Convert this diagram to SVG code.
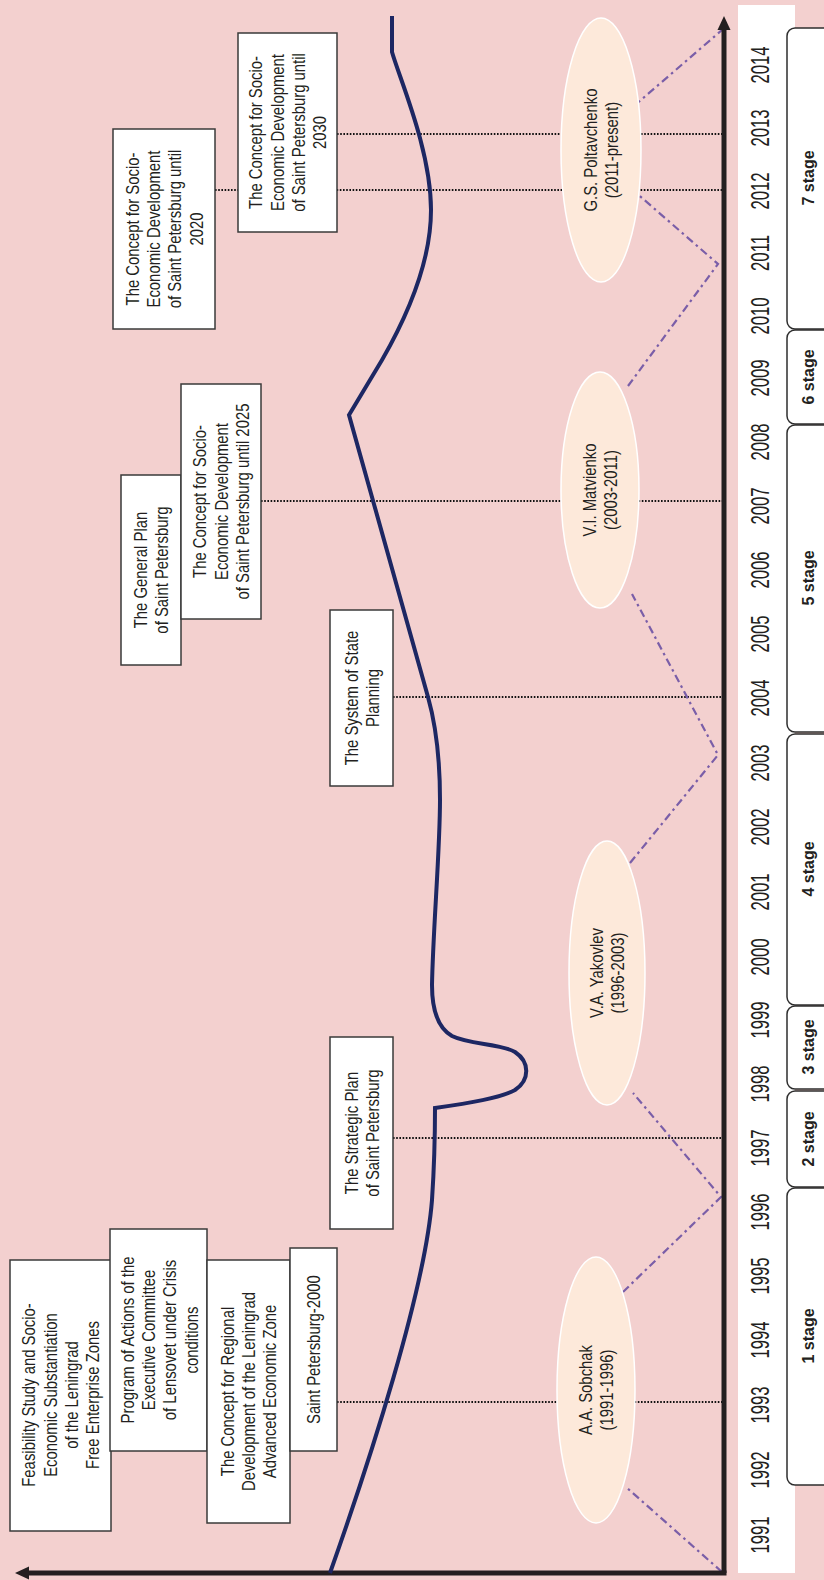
<svg xmlns="http://www.w3.org/2000/svg" width="824" height="1580" viewBox="0 0 824 1580">
<style>
.bg{fill:#F3D0CF}
.box{fill:#ffffff;stroke:#3a3a3a;stroke-width:1.5}
.stg{fill:#ffffff;stroke:#2e2e2e;stroke-width:1.5}
.ell{fill:#FDE9DA;stroke:#ffffff;stroke-width:1.5}
.t{font-family:"Liberation Sans",Arial,sans-serif;font-size:18.6px;fill:#231f20;text-anchor:middle}
.yr{font-family:"Liberation Sans",Arial,sans-serif;font-size:25px;fill:#231f20;text-anchor:middle}
.st{font-family:"Liberation Sans",Arial,sans-serif;font-size:16px;font-weight:bold;fill:#231f20;text-anchor:middle}
.dot{stroke:#111111;stroke-width:1.8;stroke-dasharray:1.6 1.6;fill:none}
.zig{stroke:#7a5ea8;stroke-width:2.2;stroke-dasharray:8 4 2.5 4;fill:none}
.axis{stroke:#231f20;stroke-width:5;fill:none}
.curve{stroke:#1d2763;stroke-width:4;fill:none;stroke-linejoin:miter}
</style>
<defs>
<marker id="arr" viewBox="0 0 14 14" refX="1" refY="7" markerWidth="14" markerHeight="14" markerUnits="userSpaceOnUse" orient="auto">
<path d="M0,0.5 L14,7 L0,13.5 Z" fill="#231f20"/>
</marker>
</defs>
<rect class="bg" x="0" y="0" width="824" height="1580"/>
<rect x="738" y="5" width="57" height="1568" fill="#ffffff"/>

<g id="stages">
<rect class="stg" x="787" y="28" width="60" height="301" rx="8"/>
<rect class="stg" x="787" y="330" width="60" height="94" rx="8"/>
<rect class="stg" x="787" y="425" width="60" height="307" rx="8"/>
<rect class="stg" x="787" y="734" width="60" height="271" rx="8"/>
<rect class="stg" x="787" y="1006" width="60" height="83" rx="8"/>
<rect class="stg" x="787" y="1091" width="60" height="96" rx="8"/>
<rect class="stg" x="787" y="1188" width="60" height="297" rx="8"/>
<text class="st" transform="translate(813.5,178) rotate(-90)">7 stage</text>
<text class="st" transform="translate(813.5,377) rotate(-90)">6 stage</text>
<text class="st" transform="translate(813.5,578) rotate(-90)">5 stage</text>
<text class="st" transform="translate(813.5,869) rotate(-90)">4 stage</text>
<text class="st" transform="translate(813.5,1047) rotate(-90)">3 stage</text>
<text class="st" transform="translate(813.5,1139) rotate(-90)">2 stage</text>
<text class="st" transform="translate(813.5,1336) rotate(-90)">1 stage</text>
</g>

<g id="years">
<text class="yr" transform="translate(769,1535) rotate(-90) scale(0.67,1)">1991</text>
<text class="yr" transform="translate(769,1470) rotate(-90) scale(0.67,1)">1992</text>
<text class="yr" transform="translate(769,1405) rotate(-90) scale(0.67,1)">1993</text>
<text class="yr" transform="translate(769,1340) rotate(-90) scale(0.67,1)">1994</text>
<text class="yr" transform="translate(769,1276) rotate(-90) scale(0.67,1)">1995</text>
<text class="yr" transform="translate(769,1212) rotate(-90) scale(0.67,1)">1996</text>
<text class="yr" transform="translate(769,1148) rotate(-90) scale(0.67,1)">1997</text>
<text class="yr" transform="translate(769,1084) rotate(-90) scale(0.67,1)">1998</text>
<text class="yr" transform="translate(769,1020) rotate(-90) scale(0.67,1)">1999</text>
<text class="yr" transform="translate(769,957) rotate(-90) scale(0.67,1)">2000</text>
<text class="yr" transform="translate(769,892) rotate(-90) scale(0.67,1)">2001</text>
<text class="yr" transform="translate(769,827) rotate(-90) scale(0.67,1)">2002</text>
<text class="yr" transform="translate(769,763) rotate(-90) scale(0.67,1)">2003</text>
<text class="yr" transform="translate(769,698) rotate(-90) scale(0.67,1)">2004</text>
<text class="yr" transform="translate(769,634) rotate(-90) scale(0.67,1)">2005</text>
<text class="yr" transform="translate(769,570) rotate(-90) scale(0.67,1)">2006</text>
<text class="yr" transform="translate(769,506) rotate(-90) scale(0.67,1)">2007</text>
<text class="yr" transform="translate(769,442) rotate(-90) scale(0.67,1)">2008</text>
<text class="yr" transform="translate(769,378) rotate(-90) scale(0.67,1)">2009</text>
<text class="yr" transform="translate(769,316) rotate(-90) scale(0.67,1)">2010</text>
<text class="yr" transform="translate(769,253) rotate(-90) scale(0.67,1)">2011</text>
<text class="yr" transform="translate(769,191) rotate(-90) scale(0.67,1)">2012</text>
<text class="yr" transform="translate(769,128) rotate(-90) scale(0.67,1)">2013</text>
<text class="yr" transform="translate(769,65) rotate(-90) scale(0.67,1)">2014</text>
</g>

<g id="connectors">
<line class="dot" x1="337" y1="1402" x2="722" y2="1402"/>
<line class="dot" x1="393" y1="1138" x2="722" y2="1138"/>
<line class="dot" x1="393" y1="697" x2="722" y2="697"/>
<line class="dot" x1="261" y1="501" x2="722" y2="501"/>
<line class="dot" x1="215" y1="190" x2="722" y2="190"/>
<line class="dot" x1="337" y1="134" x2="722" y2="134"/>
<path class="zig" d="M722,1572 L626,1487 M623,1292 L721,1197 L633,1093 M630,863 L718,755 L632,594 M628,386 L718,264 L634,191 M634,106 L722,30"/>
</g>

<g id="axes">
<path class="axis" d="M724,1573 L724,29" marker-end="url(#arr)"/>
<path class="axis" d="M726.5,1573 L28,1573" marker-end="url(#arr)"/>
</g>

<path id="trend" class="curve" d="M330,1573 C370,1460 425,1290 432,1200 C434,1170 435,1140 435,1108 C470,1103 500,1098 515,1090 C530,1080 530,1062 515,1052 C500,1043 470,1045 452,1036 C438,1028 432,1010 432,985 C433,930 440,850 440,800 C440,760 436.4,727 428,697 L349,415 L382,360 C405,320 431,265 431,210 C431,150 400,80 392,52 L392,16"/>

<g id="feasibility">
<rect class="box" x="10" y="1260" width="101" height="271"/>
<text class="t" transform="translate(60.5,1395) rotate(-90) scale(0.8,1)"><tspan x="0" y="-25.3">Feasibility Study and Socio-</tspan><tspan x="0" y="-4">Economic Substantiation</tspan><tspan x="0" y="17.3">of the Leningrad</tspan><tspan x="0" y="38.6">Free Enterprise Zones</tspan></text>
</g>
<g id="program">
<rect class="box" x="110" y="1229" width="97" height="222"/>
<text class="t" transform="translate(159,1340) rotate(-90) scale(0.8,1)"><tspan x="0" y="-25.3">Program of Actions of the</tspan><tspan x="0" y="-4">Executive Committee</tspan><tspan x="0" y="17.3">of Lensovet under Crisis</tspan><tspan x="0" y="38.6">conditions</tspan></text>
</g>
<g id="regional">
<rect class="box" x="207" y="1260" width="83" height="263"/>
<text class="t" transform="translate(248.5,1391.5) rotate(-90) scale(0.8,1)"><tspan x="0" y="-14.6">The Concept for Regional</tspan><tspan x="0" y="6.7">Development of the Leningrad</tspan><tspan x="0" y="28">Advanced Economic Zone</tspan></text>
</g>
<g id="spb2000">
<rect class="box" x="290" y="1248" width="47" height="203"/>
<text class="t" transform="translate(313.5,1349.5) rotate(-90) scale(0.8,1)"><tspan x="0" y="6.7">Saint Petersburg-2000</tspan></text>
</g>
<g id="strategic">
<rect class="box" x="330" y="1037" width="63" height="192"/>
<text class="t" transform="translate(361.5,1133) rotate(-90) scale(0.8,1)"><tspan x="0" y="-4">The Strategic Plan</tspan><tspan x="0" y="17.3">of Saint Petersburg</tspan></text>
</g>
<g id="system">
<rect class="box" x="330" y="610" width="63" height="176"/>
<text class="t" transform="translate(361.5,698) rotate(-90) scale(0.8,1)"><tspan x="0" y="-4">The System of State</tspan><tspan x="0" y="17.3">Planning</tspan></text>
</g>
<g id="general">
<rect class="box" x="121" y="475" width="60" height="190"/>
<text class="t" transform="translate(151,570) rotate(-90) scale(0.8,1)"><tspan x="0" y="-4">The General Plan</tspan><tspan x="0" y="17.3">of Saint Petersburg</tspan></text>
</g>
<g id="concept2025">
<rect class="box" x="181" y="384" width="80" height="235"/>
<text class="t" transform="translate(221,501.5) rotate(-90) scale(0.8,1)"><tspan x="0" y="-14.6">The Concept for Socio-</tspan><tspan x="0" y="6.7">Economic Development</tspan><tspan x="0" y="28">of Saint Petersburg until 2025</tspan></text>
</g>
<g id="concept2020">
<rect class="box" x="113" y="129" width="102" height="200"/>
<text class="t" transform="translate(164,229) rotate(-90) scale(0.8,1)"><tspan x="0" y="-25.3">The Concept for Socio-</tspan><tspan x="0" y="-4">Economic Development</tspan><tspan x="0" y="17.3">of Saint Petersburg until</tspan><tspan x="0" y="38.6">2020</tspan></text>
</g>
<g id="concept2030">
<rect class="box" x="238" y="33" width="99" height="199"/>
<text class="t" transform="translate(287.5,132.5) rotate(-90) scale(0.8,1)"><tspan x="0" y="-25.3">The Concept for Socio-</tspan><tspan x="0" y="-4">Economic Development</tspan><tspan x="0" y="17.3">of Saint Petersburg until</tspan><tspan x="0" y="38.6">2030</tspan></text>
</g>

<g id="sobchak">
<ellipse class="ell" cx="596" cy="1390" rx="39" ry="133"/>
<text class="t" transform="translate(596,1390) rotate(-90) scale(0.8,1)"><tspan x="0" y="-3.8">A.A. Sobchak</tspan><tspan x="0" y="17.2">(1991-1996)</tspan></text>
</g>
<g id="yakovlev">
<ellipse class="ell" cx="607" cy="973" rx="38" ry="132"/>
<text class="t" transform="translate(607,973) rotate(-90) scale(0.8,1)"><tspan x="0" y="-3.8">V.A. Yakovlev</tspan><tspan x="0" y="17.2">(1996-2003)</tspan></text>
</g>
<g id="matvienko">
<ellipse class="ell" cx="600" cy="490" rx="39" ry="118"/>
<text class="t" transform="translate(600,490) rotate(-90) scale(0.8,1)"><tspan x="0" y="-3.8">V.I. Matvienko</tspan><tspan x="0" y="17.2">(2003-2011)</tspan></text>
</g>
<g id="poltavchenko">
<ellipse class="ell" cx="601" cy="150" rx="40" ry="132"/>
<text class="t" transform="translate(601,150) rotate(-90) scale(0.8,1)"><tspan x="0" y="-3.8">G.S. Poltavchenko</tspan><tspan x="0" y="17.2">(2011-present)</tspan></text>
</g>
</svg>
